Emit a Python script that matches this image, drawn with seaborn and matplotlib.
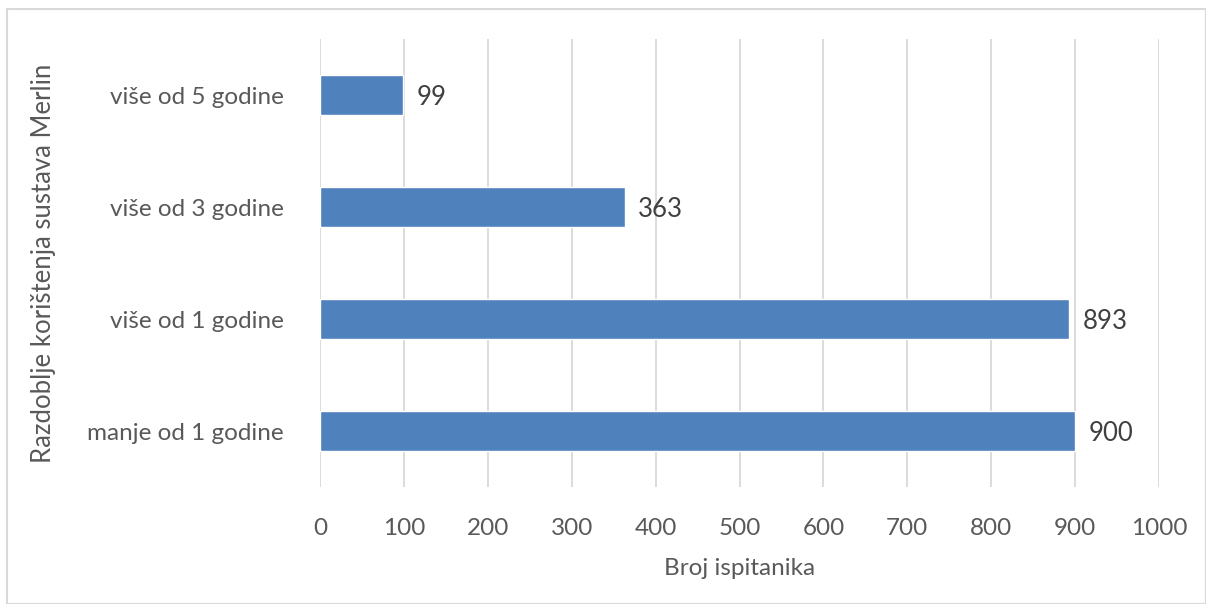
import matplotlib
matplotlib.use("Agg")
import matplotlib.pyplot as plt
import seaborn as sns
import pandas as pd
from matplotlib.patches import Rectangle

categories = ["više od 5 godine", "više od 3 godine", "više od 1 godine", "manje od 1 godine"]
counts = [99, 363, 893, 900]
x_ticks = [0, 100, 200, 300, 400, 500, 600, 700, 800, 900, 1000]

df = pd.DataFrame({"period": categories, "count": counts})

sns.set_theme(style="white")
plt.rcParams["font.family"] = ["Lato", "DejaVu Sans"]

text_color = "#595959"
bar_color = "#4F81BD"
grid_color = "#D9D9D9"
fs = 18.5

fig = plt.figure(figsize=(12.06, 6.04), dpi=100)
ax = fig.add_axes([320 / 1206, 1 - 487 / 604, (1159 - 320) / 1206, (487 - 39) / 604])

sns.barplot(data=df, x="count", y="period", orient="h", color=bar_color,
            saturation=1, width=0.36, ax=ax, zorder=3)

ax.set_xlim(0, 1000)
ax.set_xticks(x_ticks)
ax.set_xticklabels([str(t) for t in x_ticks])
ax.xaxis.grid(True, color=grid_color, linewidth=1.3, zorder=0)
ax.yaxis.grid(False)
for s in ax.spines.values():
    s.set_visible(False)
ax.tick_params(axis="both", length=0, colors=text_color, labelsize=17.5)
ax.tick_params(axis="x", pad=22)
ax.tick_params(axis="y", pad=26)

for i, v in enumerate(counts):
    ax.text(v + 16, i + 0.02, str(v), va="center", ha="left", fontsize=fs, color="#404040")

ax.set_xlabel("Broj ispitanika", fontsize=17.5, color=text_color, labelpad=14)
ax.set_ylabel("")
fig.text(44 / 1206, 1 - 263 / 604, "Razdoblje korištenja sustava Merlin", rotation=90,
         ha="center", va="center", fontsize=fs, color=text_color)

fig.patches.append(Rectangle((7 / 1206, 0), 1 - 7 / 1206, 1 - 9 / 604,
                             transform=fig.transFigure, fill=False,
                             edgecolor=grid_color, linewidth=1.5))

fig.savefig("out.png", dpi=100, facecolor="white")
